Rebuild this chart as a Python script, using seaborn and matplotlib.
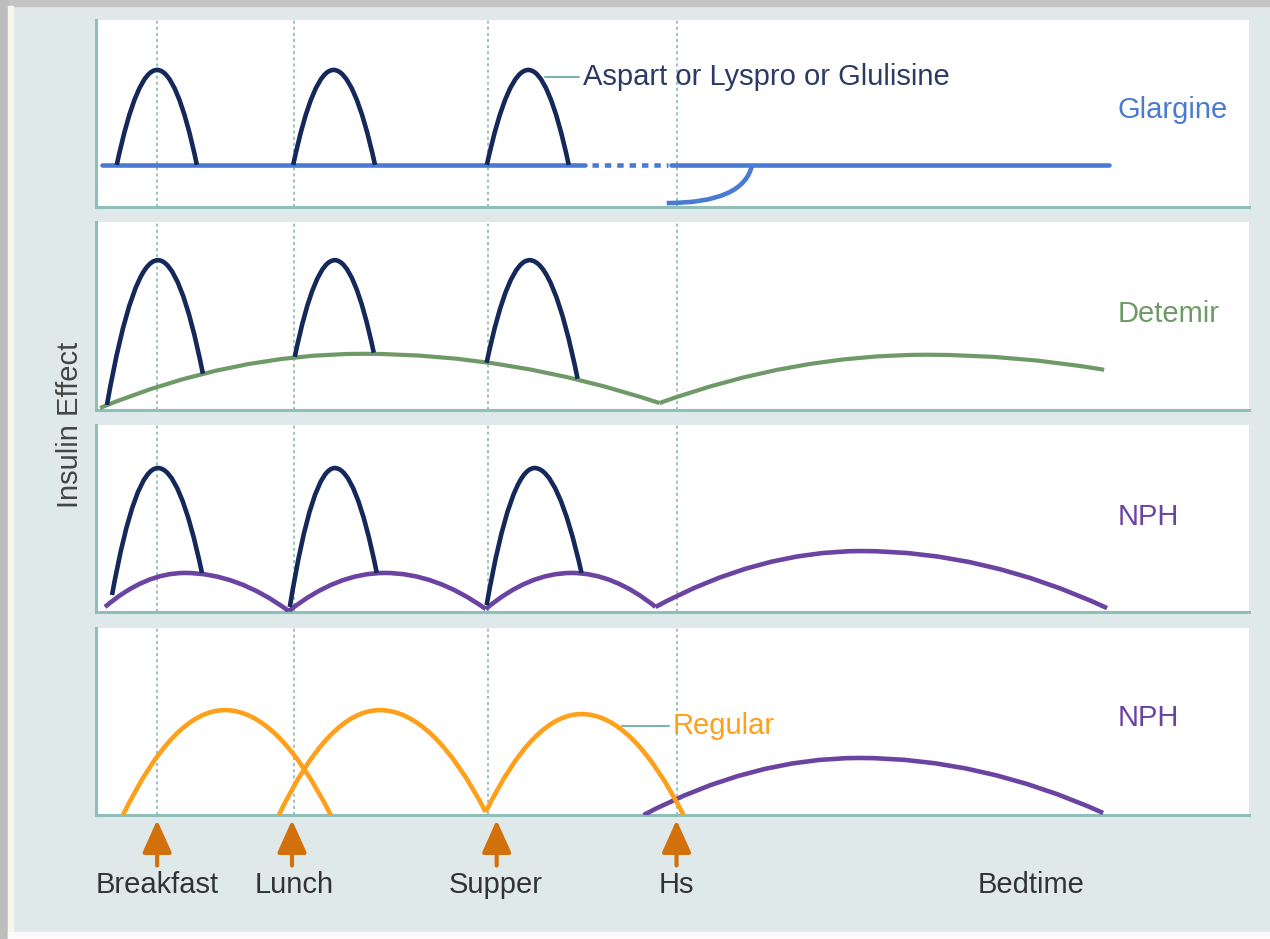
import seaborn as sns
import matplotlib.pyplot as plt
from matplotlib.path import Path
from matplotlib.patches import PathPatch, Rectangle

# x = time of day across a panel (0-100), y = insulin effect inside a panel (0-100)
guide_x = [5.3, 17.2, 34.0, 50.35]
meal_labels = ["Breakfast", "Lunch", "Supper", "Hs", "Bedtime"]
meal_label_x = [5.3, 17.2, 34.7, 50.3, 81.1]
meal_arrow_x = [5.3, 17.0, 34.75, 50.35]

# each curve: (start x, start y, peak x, peak y, end x, end y)
glargine_rapid = [(1.8, 22.5, 5.3, 73.3, 8.75, 22.5),
                  (17.1, 22.5, 20.6, 73.3, 24.2, 22.5),
                  (33.9, 22.5, 37.5, 73.3, 41.0, 22.5)]
glargine_level = 22.5
glargine_solid_x = [(0.5, 42.4), (49.9, 87.9)]
glargine_dotted_x = (43.0, 49.6)
glargine_onset = [(49.5, 2.1), (56.2, 2.1), (56.9, 22.5)]

detemir_rapid = [(0.95, 2.7, 5.37, 79.7, 9.27, 19.3),
                 (17.24, 28.3, 20.71, 79.7, 24.09, 30.5),
                 (33.88, 25.1, 37.61, 79.7, 41.77, 16.6)]
detemir_basal = [(0.35, 1.1, 23.14, 29.9, 48.87, 3.7),
                 (48.87, 3.7, 72.03, 29.4, 87.44, 21.4)]

nph_rapid = [(1.39, 9.1, 5.37, 77.0, 9.19, 20.9),
             (16.81, 2.7, 20.71, 77.0, 24.35, 20.9),
             (33.88, 3.7, 38.04, 77.0, 42.11, 20.9)]
nph_basal = [(0.78, 2.7, 7.71, 20.9, 16.72, 0.5),
             (16.72, 0.5, 25.04, 20.9, 33.80, 1.6),
             (33.80, 1.6, 41.25, 20.9, 48.53, 2.7),
             (48.53, 2.7, 66.38, 32.6, 87.69, 2.1)]

regular_rapid = [(2.34, 0.0, 11.18, 56.1, 20.36, 0.0),
                 (15.86, 0.0, 24.61, 56.1, 33.80, 1.6),
                 (33.80, 1.6, 42.11, 54.0, 50.95, 0.0)]
regular_nph = [(47.49, 0.0, 66.20, 30.5, 87.35, 1.1)]

panel_names = ["Glargine", "Detemir", "NPH", "NPH"]
panel_name_y = [51.9, 50.8, 50.8, 51.9]

NAVY = "#14285a"
BLUE = "#4a7bd2"
GREEN = "#6f9a68"
PURPLE = "#6b44a2"
ORANGE = "#ffa01a"
ARROW = "#d2700c"
TEAL = "#8fbfb9"
BG = "#dfe9e9"
name_colors = [BLUE, GREEN, PURPLE, PURPLE]

sns.set_theme(style="white")
plt.rcParams["font.family"] = ["Liberation Sans", "DejaVu Sans"]
FS = 21


def arch(ax, c, color, lw=3.3):
    x0, y0, xp, yp, x1, y1 = c
    verts = [(x0, y0), ((x0 + xp) / 2, yp), (xp, yp), ((xp + x1) / 2, yp), (x1, y1)]
    codes = [Path.MOVETO, Path.CURVE3, Path.CURVE3, Path.CURVE3, Path.CURVE3]
    ax.add_patch(PathPatch(Path(verts, codes), fill=False, edgecolor=color,
                           lw=lw, capstyle="butt", zorder=3))


fig = plt.figure(figsize=(12.7, 9.39), dpi=100, facecolor=BG)
W, H = 1270, 939
fig.add_artist(Rectangle((0, 1 - 6 / H), 1, 6 / H, transform=fig.transFigure,
                         color="#c3c3c3", zorder=-5))
fig.add_artist(Rectangle((0, 0), 8 / W, 1, transform=fig.transFigure,
                         color="#bdbdbd", zorder=-5))
fig.add_artist(Rectangle((8 / W, 0), 5 / W, 1 - 6 / H, transform=fig.transFigure,
                         color="#f7f7ee", zorder=-5))
fig.add_artist(Rectangle((8 / W, 0), 1, 7 / H, transform=fig.transFigure,
                         color="#fbfbfb", zorder=-5))

panel_px = [(20, 207), (222, 410), (425, 612), (628, 815)]
axes = []
for top, bottom in panel_px:
    ax = fig.add_axes([96 / W, 1 - bottom / H, 1153 / W, (bottom - top) / H])
    ax.set_facecolor("white")
    ax.set_xlim(0, 100)
    ax.set_ylim(0, 100)
    ax.set_xticks([])
    ax.set_yticks([])
    for side in ["top", "right"]:
        ax.spines[side].set_visible(False)
    for side in ["left", "bottom"]:
        ax.spines[side].set_color(TEAL)
        ax.spines[side].set_linewidth(2.2)
    for gx in guide_x:
        ax.axvline(gx, color="#7fb3ad", lw=1.1, ls=(0, (2, 2)), zorder=1)
    axes.append(ax)

ax1, ax2, ax3, ax4 = axes

# Glargine panel
for xs in glargine_solid_x:
    sns.lineplot(x=list(xs), y=[glargine_level] * 2, ax=ax1, color=BLUE,
                 lw=3.3, sort=False, zorder=2)
ax1.plot(list(glargine_dotted_x), [glargine_level] * 2, color=BLUE, lw=3.3,
         ls=(0, (1.4, 1.3)), zorder=2)
onset_codes = [Path.MOVETO, Path.CURVE3, Path.CURVE3]
ax1.add_patch(PathPatch(Path(glargine_onset, onset_codes), fill=False,
                        edgecolor=BLUE, lw=3.3, zorder=2))
for c in glargine_rapid:
    arch(ax1, c, NAVY)
ax1.plot([38.9, 41.9], [69.5, 69.5], color="#7fb2aa", lw=1.5)
ax1.text(42.2, 69.5, "Aspart or Lyspro or Glulisine", color="#2b3a66",
         fontsize=FS, va="center", ha="left")

# Detemir panel
for c in detemir_basal:
    arch(ax2, c, GREEN, lw=3)
for c in detemir_rapid:
    arch(ax2, c, NAVY)

# NPH panel
for c in nph_basal:
    arch(ax3, c, PURPLE)
for c in nph_rapid:
    arch(ax3, c, NAVY)

# Regular + NPH panel
for c in regular_nph:
    arch(ax4, c, PURPLE)
for c in regular_rapid:
    arch(ax4, c, ORANGE)
ax4.plot([45.6, 49.7], [47.6, 47.6], color="#7fb2aa", lw=1.5)
ax4.text(50.0, 47.6, "Regular", color=ORANGE, fontsize=FS, va="center", ha="left")

for ax, name, ny, col in zip(axes, panel_names, panel_name_y, name_colors):
    ax.text(88.6, ny, name, color=col, fontsize=FS, va="center", ha="left")

# meal arrows and labels under the last panel
tr = ax4.get_xaxis_transform()
for mx in meal_arrow_x:
    ax4.annotate("", xy=(mx, -0.027), xytext=(mx, -0.27), xycoords=tr,
                 textcoords=tr, annotation_clip=False,
                 arrowprops=dict(arrowstyle="-|>,head_length=2.0,head_width=0.9",
                                 color=ARROW, lw=3, shrinkA=0, shrinkB=0,
                                 mutation_scale=10))
for name, mx in zip(meal_labels, meal_label_x):
    ax4.text(mx, -0.375, name, transform=tr, ha="center", va="center",
             fontsize=FS, color="#333333")

fig.text(70 / W, 1 - 425 / H, "Insulin Effect", rotation=90, ha="center",
         va="center", fontsize=FS, color="#444444")

fig.savefig("out.png", dpi=100, facecolor=BG)
